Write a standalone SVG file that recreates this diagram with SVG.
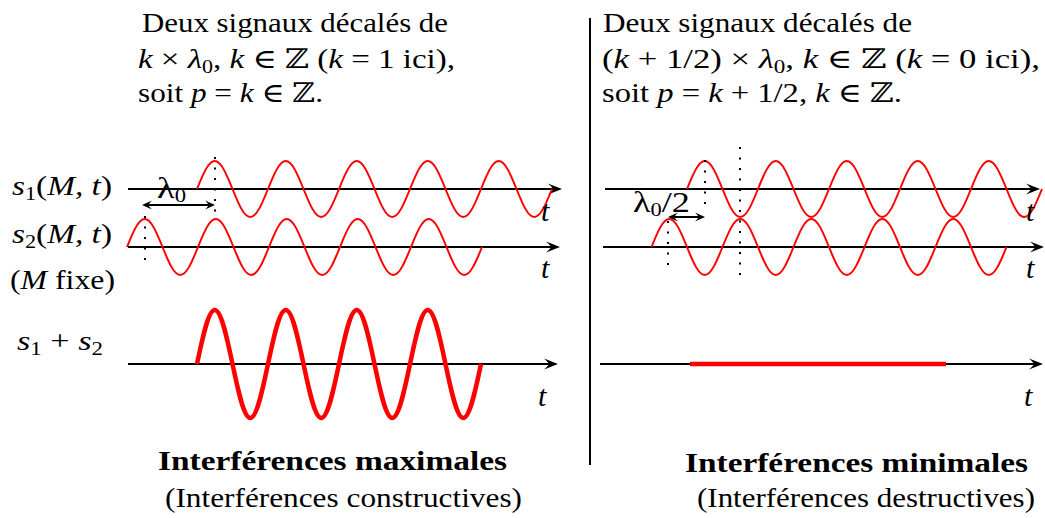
<svg xmlns="http://www.w3.org/2000/svg" width="1045" height="518" viewBox="0 0 1045 518">
<defs>
<style>
text{font-family:'Liberation Serif','DejaVu Serif',serif;font-size:27px;fill:#000}
.i{font-style:italic}
.sb{font-size:18px}
.b{font-weight:bold}
.tl{font-size:30px;font-style:italic}
.lam{font-size:29px}
.ax{stroke:#000;stroke-width:2;fill:none;marker-end:url(#arr)}
.w{stroke:#ff0000;stroke-width:2;fill:none}
.wt{stroke:#ff0000;stroke-width:4.5;fill:none}
.dot{stroke:#000;stroke-width:2;stroke-dasharray:2 8.5;fill:none}
.dbl{stroke:#000;stroke-width:2;fill:none;marker-start:url(#sarr);marker-end:url(#sarr)}
</style>
<marker id="arr" markerUnits="userSpaceOnUse" viewBox="-15 -7 17 14" markerWidth="17" markerHeight="14" refX="-4" refY="0" orient="auto"><path d="M0,0 L-14,-5.5 Q-9,-1 -9,0 Q-9,1 -14,5.5 Z" fill="#000"/></marker>
<marker id="sarr" markerUnits="userSpaceOnUse" viewBox="-12 -6 14 12" markerWidth="14" markerHeight="12" refX="-3" refY="0" orient="auto-start-reverse"><path d="M0,0 L-10,-4.5 Q-6.5,-1 -6.5,0 Q-6.5,1 -10,4.5 Z" fill="#000"/></marker>
</defs>

<g id="separator"><line x1="590" y1="18" x2="590" y2="465" stroke="#000" stroke-width="2"/></g>

<g id="left-caption">
<text x="142" y="32" textLength="306" lengthAdjust="spacingAndGlyphs">Deux signaux décalés de</text>
<text x="138" y="68" textLength="317" lengthAdjust="spacingAndGlyphs"><tspan class="i">k</tspan> × <tspan class="i">λ</tspan><tspan class="sb" dy="5">0</tspan><tspan dy="-5">, </tspan><tspan class="i">k</tspan> ∈ ℤ (<tspan class="i">k</tspan> = 1 ici),</text>
<text x="138" y="102" textLength="185" lengthAdjust="spacingAndGlyphs">soit <tspan class="i">p</tspan> = <tspan class="i">k</tspan> ∈ ℤ.</text>
</g>

<g id="right-caption">
<text x="603" y="32" textLength="309" lengthAdjust="spacingAndGlyphs">Deux signaux décalés de</text>
<text x="602" y="68" textLength="438" lengthAdjust="spacingAndGlyphs">(<tspan class="i">k</tspan> + 1/2) × <tspan class="i">λ</tspan><tspan class="sb" dy="5">0</tspan><tspan dy="-5">, </tspan><tspan class="i">k</tspan> ∈ ℤ (<tspan class="i">k</tspan> = 0 ici),</text>
<text x="602" y="102" textLength="300" lengthAdjust="spacingAndGlyphs">soit <tspan class="i">p</tspan> = <tspan class="i">k</tspan> + 1/2, <tspan class="i">k</tspan> ∈ ℤ.</text>
</g>

<g id="row-labels">
<text x="12" y="195" textLength="100" lengthAdjust="spacingAndGlyphs"><tspan class="i">s</tspan><tspan class="sb" dy="5">1</tspan><tspan dy="-5">(</tspan><tspan class="i">M, t</tspan>)</text>
<text x="12" y="243" textLength="100" lengthAdjust="spacingAndGlyphs"><tspan class="i">s</tspan><tspan class="sb" dy="5">2</tspan><tspan dy="-5">(</tspan><tspan class="i">M, t</tspan>)</text>
<text x="10" y="289" textLength="105" lengthAdjust="spacingAndGlyphs">(<tspan class="i">M</tspan> fixe)</text>
<text x="17" y="350" textLength="86" lengthAdjust="spacingAndGlyphs"><tspan class="i">s</tspan><tspan class="sb" dy="5">1</tspan><tspan dy="-5"> + </tspan><tspan class="i">s</tspan><tspan class="sb" dy="5">2</tspan></text>
</g>

<g id="left-panel">
<line class="ax" x1="128" y1="189" x2="558" y2="189"/>
<line class="ax" x1="128" y1="247" x2="556" y2="247"/>
<line class="ax" x1="128" y1="364" x2="554" y2="364"/>
<path id="left-s1" class="w" d="M197,189 c5.79,-14.34 11.33,-28 17.75,-28 c6.42,0 11.96,13.66 17.75,28 c5.79,14.34 11.33,28 17.75,28 c6.42,0 11.96,-13.66 17.75,-28 c5.79,-14.34 11.33,-28 17.75,-28 c6.42,0 11.96,13.66 17.75,28 c5.79,14.34 11.33,28 17.75,28 c6.42,0 11.96,-13.66 17.75,-28 c5.79,-14.34 11.33,-28 17.75,-28 c6.42,0 11.96,13.66 17.75,28 c5.79,14.34 11.33,28 17.75,28 c6.42,0 11.96,-13.66 17.75,-28 c5.79,-14.34 11.33,-28 17.75,-28 c6.42,0 11.96,13.66 17.75,28 c5.79,14.34 11.33,28 17.75,28 c6.42,0 11.96,-13.66 17.75,-28 c5.79,-14.34 11.33,-28 17.75,-28 c6.42,0 11.96,13.66 17.75,28 c5.79,14.34 11.33,28 17.75,28 c6.42,0 11.96,-13.66 17.75,-28"/>
<path id="left-s2" class="w" d="M127,247 c5.79,-14.34 11.33,-28 17.75,-28 c6.42,0 11.96,13.66 17.75,28 c5.79,14.34 11.33,28 17.75,28 c6.42,0 11.96,-13.66 17.75,-28 c5.79,-14.34 11.33,-28 17.75,-28 c6.42,0 11.96,13.66 17.75,28 c5.79,14.34 11.33,28 17.75,28 c6.42,0 11.96,-13.66 17.75,-28 c5.79,-14.34 11.33,-28 17.75,-28 c6.42,0 11.96,13.66 17.75,28 c5.79,14.34 11.33,28 17.75,28 c6.42,0 11.96,-13.66 17.75,-28 c5.79,-14.34 11.33,-28 17.75,-28 c6.42,0 11.96,13.66 17.75,28 c5.79,14.34 11.33,28 17.75,28 c6.42,0 11.96,-13.66 17.75,-28 c5.79,-14.34 11.33,-28 17.75,-28 c6.42,0 11.96,13.66 17.75,28 c5.79,14.34 11.33,28 17.75,28 c6.42,0 11.96,-13.66 17.75,-28"/>
<path id="left-sum" class="wt" d="M197,364 c5.79,-27.66 11.33,-54 17.75,-54 c6.42,0 11.96,26.34 17.75,54 c5.79,27.66 11.33,54 17.75,54 c6.42,0 11.96,-26.34 17.75,-54 c5.79,-27.66 11.33,-54 17.75,-54 c6.42,0 11.96,26.34 17.75,54 c5.79,27.66 11.33,54 17.75,54 c6.42,0 11.96,-26.34 17.75,-54 c5.79,-27.66 11.33,-54 17.75,-54 c6.42,0 11.96,26.34 17.75,54 c5.79,27.66 11.33,54 17.75,54 c6.42,0 11.96,-26.34 17.75,-54 c5.79,-27.66 11.33,-54 17.75,-54 c6.42,0 11.96,26.34 17.75,54 c5.79,27.66 11.33,54 17.75,54 c6.42,0 11.96,-26.34 17.75,-54"/>
<line class="dot" x1="215" y1="157" x2="215" y2="213"/>
<line class="dot" x1="145" y1="216" x2="145" y2="262"/>
<line class="dbl" x1="145" y1="205" x2="212" y2="205"/>
<text class="lam" x="157" y="198" textLength="29" lengthAdjust="spacingAndGlyphs">λ<tspan class="sb" dy="4">0</tspan></text>
<text class="tl" x="541" y="221">t</text>
<text class="tl" x="541" y="278">t</text>
<text class="tl" x="538" y="406">t</text>
<text class="b" x="158" y="470" textLength="349" lengthAdjust="spacingAndGlyphs">Interférences maximales</text>
<text x="165" y="507" textLength="357" lengthAdjust="spacingAndGlyphs">(Interférences constructives)</text>
</g>

<g id="right-panel">
<line class="ax" x1="605" y1="189" x2="1036" y2="189"/>
<line class="ax" x1="603" y1="247" x2="1040" y2="247"/>
<line class="ax" x1="600" y1="364" x2="1039" y2="364"/>
<path id="right-s1" class="w" d="M687,189 c5.79,-14.34 11.33,-28 17.75,-28 c6.42,0 11.96,13.66 17.75,28 c5.79,14.34 11.33,28 17.75,28 c6.42,0 11.96,-13.66 17.75,-28 c5.79,-14.34 11.33,-28 17.75,-28 c6.42,0 11.96,13.66 17.75,28 c5.79,14.34 11.33,28 17.75,28 c6.42,0 11.96,-13.66 17.75,-28 c5.79,-14.34 11.33,-28 17.75,-28 c6.42,0 11.96,13.66 17.75,28 c5.79,14.34 11.33,28 17.75,28 c6.42,0 11.96,-13.66 17.75,-28 c5.79,-14.34 11.33,-28 17.75,-28 c6.42,0 11.96,13.66 17.75,28 c5.79,14.34 11.33,28 17.75,28 c6.42,0 11.96,-13.66 17.75,-28 c5.79,-14.34 11.33,-28 17.75,-28 c6.42,0 11.96,13.66 17.75,28 c5.79,14.34 11.33,28 17.75,28 c6.42,0 11.96,-13.66 17.75,-28"/>
<path id="right-s2" class="w" d="M651.5,247 c5.79,-14.34 11.33,-28 17.75,-28 c6.42,0 11.96,13.66 17.75,28 c5.79,14.34 11.33,28 17.75,28 c6.42,0 11.96,-13.66 17.75,-28 c5.79,-14.34 11.33,-28 17.75,-28 c6.42,0 11.96,13.66 17.75,28 c5.79,14.34 11.33,28 17.75,28 c6.42,0 11.96,-13.66 17.75,-28 c5.79,-14.34 11.33,-28 17.75,-28 c6.42,0 11.96,13.66 17.75,28 c5.79,14.34 11.33,28 17.75,28 c6.42,0 11.96,-13.66 17.75,-28 c5.79,-14.34 11.33,-28 17.75,-28 c6.42,0 11.96,13.66 17.75,28 c5.79,14.34 11.33,28 17.75,28 c6.42,0 11.96,-13.66 17.75,-28 c5.79,-14.34 11.33,-28 17.75,-28 c6.42,0 11.96,13.66 17.75,28 c5.79,14.34 11.33,28 17.75,28 c6.42,0 11.96,-13.66 17.75,-28"/>
<line id="right-sum" x1="690" y1="364" x2="946" y2="364" stroke="#ff0000" stroke-width="4.5"/>
<line class="dot" x1="705" y1="160" x2="705" y2="212"/>
<line class="dot" x1="668" y1="221" x2="668" y2="268"/>
<line class="dot" x1="740" y1="147" x2="740" y2="280"/>
<line class="dbl" x1="671" y1="217" x2="702" y2="217"/>
<text class="lam" x="633" y="212" textLength="57" lengthAdjust="spacingAndGlyphs">λ<tspan class="sb" dy="4">0</tspan><tspan dy="-4">/2</tspan></text>
<text class="tl" x="1026" y="221">t</text>
<text class="tl" x="1026" y="278">t</text>
<text class="tl" x="1024" y="406">t</text>
<text class="b" x="685" y="472" textLength="343" lengthAdjust="spacingAndGlyphs">Interférences minimales</text>
<text x="697" y="507" textLength="338" lengthAdjust="spacingAndGlyphs">(Interférences destructives)</text>
</g>
</svg>
